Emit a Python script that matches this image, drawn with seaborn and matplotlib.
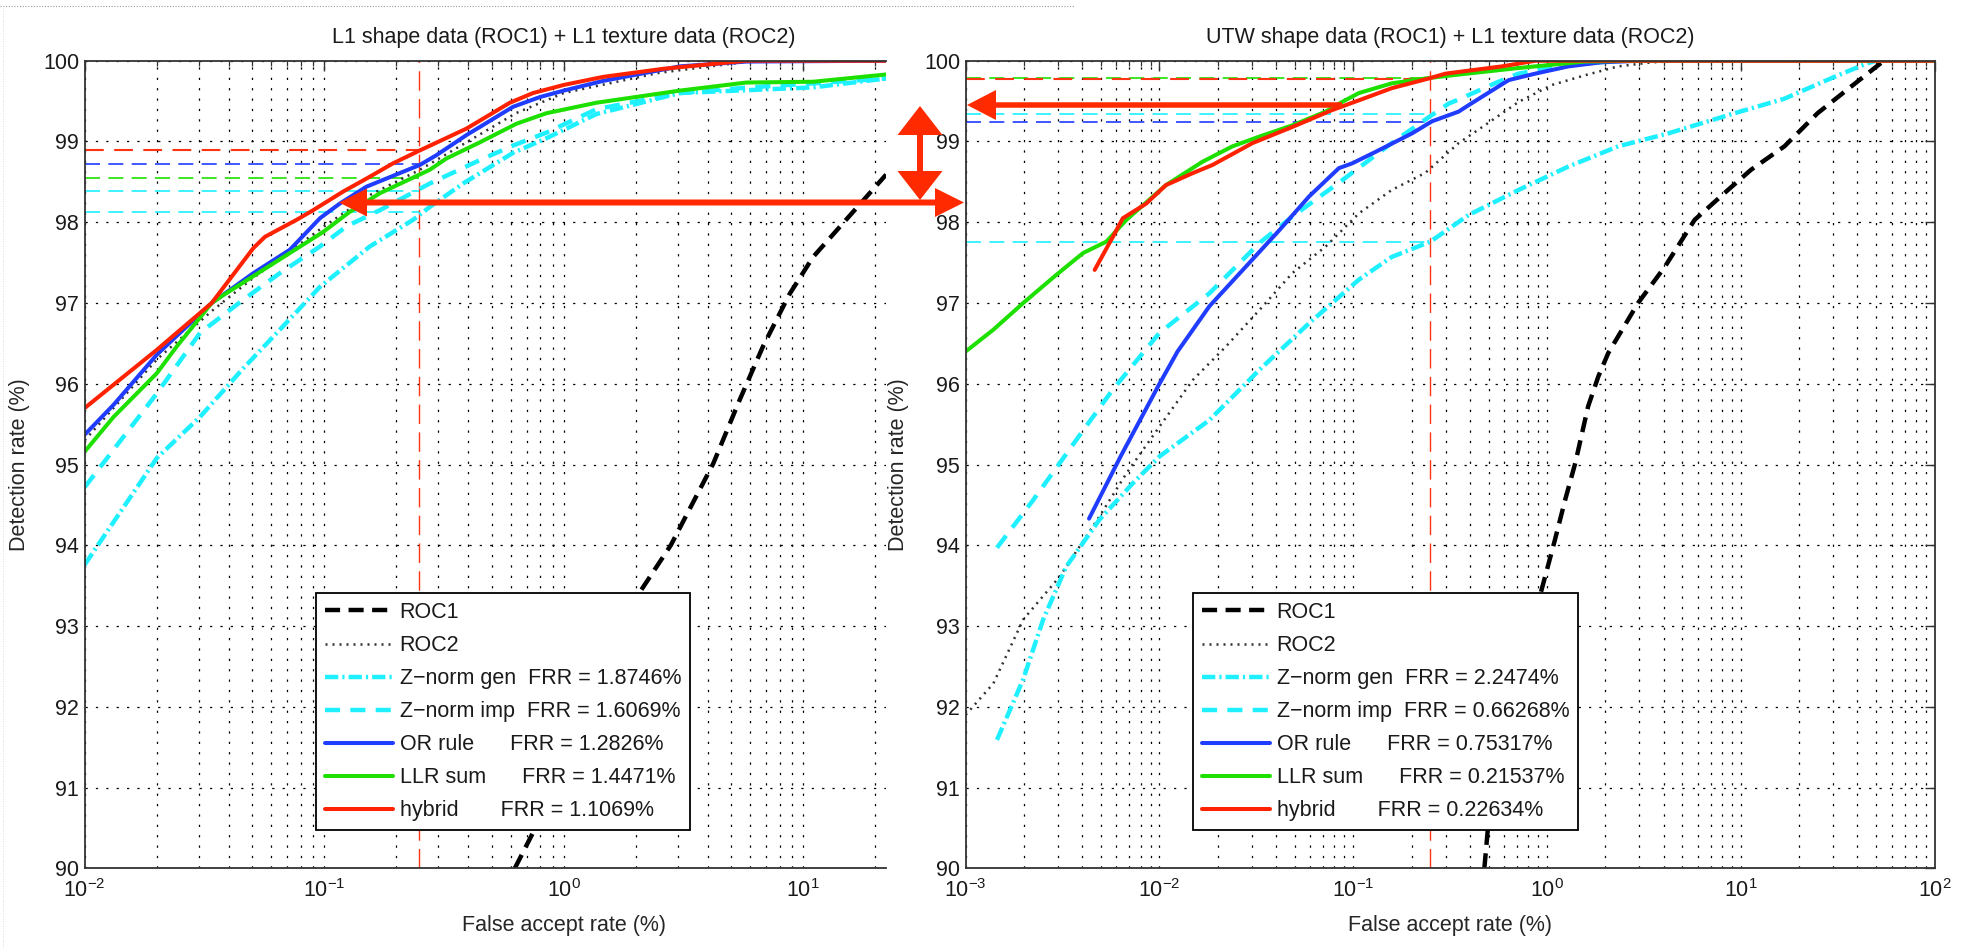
import matplotlib
matplotlib.use('Agg')
import matplotlib.pyplot as plt
import matplotlib.transforms as mtransforms
from matplotlib.patches import FancyArrow
from matplotlib.lines import Line2D
from matplotlib.ticker import LogLocator, NullFormatter, FixedLocator
import numpy as np
import pandas as pd
import seaborn as sns

# ---- left panel: L1 shape + L1 texture ----
roc1_l_x = [0.625, 0.75, 1.0, 1.35, 2.09, 2.8, 4.21, 5.43, 6.79, 8.77, 11.0, 15.1, 22.2]
roc1_l_y = [90.0, 90.46, 91.3, 92.2, 93.43, 94.0, 95.01, 95.8, 96.46, 97.11, 97.57, 98.03, 98.59]
roc2_l_x = [0.01, 0.02, 0.0339, 0.05, 0.1, 0.158, 0.251, 0.398, 0.631, 1.0, 2.5, 6.3, 22.2]
roc2_l_y = [95.3, 96.3, 96.9, 97.3, 97.95, 98.35, 98.65, 99.0, 99.35, 99.6, 99.85, 100.0, 100.0]
gen_l_x = [0.01, 0.02, 0.0303, 0.0459, 0.0653, 0.096, 0.155, 0.235, 0.276, 0.38, 0.615, 0.847, 1.37, 3.05, 11.0, 22.2]
gen_l_y = [93.76, 95.08, 95.59, 96.19, 96.67, 97.20, 97.70, 98.03, 98.19, 98.48, 98.86, 99.04, 99.34, 99.60, 99.67, 99.78]
imp_l_x = [0.01, 0.02, 0.0303, 0.0459, 0.0653, 0.096, 0.124, 0.171, 0.276, 0.447, 0.615, 0.847, 1.37, 3.05, 6.0, 11.0, 22.2]
imp_l_y = [94.72, 95.88, 96.63, 97.04, 97.37, 97.70, 97.95, 98.15, 98.48, 98.77, 98.95, 99.11, 99.40, 99.60, 99.67, 99.72, 99.78]
or_l_x = [0.01, 0.0132, 0.02, 0.0339, 0.0506, 0.0719, 0.096, 0.116, 0.150, 0.251, 0.294, 0.393, 0.615, 0.795, 1.0, 1.46, 3.05, 5.8, 22.2]
or_l_y = [95.37, 95.74, 96.36, 97.0, 97.37, 97.66, 98.05, 98.23, 98.44, 98.71, 98.83, 99.08, 99.43, 99.55, 99.63, 99.75, 99.93, 99.99, 100.0]
llr_l_x = [0.01, 0.0132, 0.02, 0.0242, 0.0339, 0.038, 0.0794, 0.099, 0.128, 0.171, 0.276, 0.324, 0.447, 0.635, 0.847, 1.37, 3.05, 5.8, 11.0, 22.2]
llr_l_y = [95.16, 95.59, 96.13, 96.46, 97.0, 97.10, 97.70, 97.88, 98.13, 98.36, 98.65, 98.79, 98.99, 99.22, 99.35, 99.48, 99.63, 99.73, 99.74, 99.83]
hyb_l_x = [0.01, 0.02, 0.0339, 0.0506, 0.0566, 0.0767, 0.090, 0.120, 0.150, 0.194, 0.251, 0.393, 0.596, 0.745, 1.0, 1.46, 2.6, 4.2, 5.8, 22.2]
hyb_l_y = [95.70, 96.42, 97.0, 97.68, 97.82, 98.03, 98.15, 98.38, 98.54, 98.73, 98.89, 99.16, 99.48, 99.60, 99.70, 99.80, 99.90, 99.96, 100.0, 100.0]
frr_l = [1.8746, 1.6069, 1.2826, 1.4471, 1.1069]   # gen, imp, OR, LLR, hybrid

# ---- right panel: UTW shape + L1 texture ----
roc1_r_x = [0.475, 0.494, 0.7, 0.933, 1.094, 1.24, 1.40, 1.63, 1.84, 2.07, 2.95, 4.06, 5.78, 8.59, 11.3, 16.8, 24.9, 37.1, 52.8, 55.0, 100.0]
roc1_r_y = [90.0, 90.46, 92.0, 93.43, 94.05, 94.56, 95.02, 95.72, 96.09, 96.38, 97.0, 97.45, 98.03, 98.40, 98.65, 98.94, 99.35, 99.68, 99.97, 100.0, 100.0]
roc2_r_x = [0.001, 0.00139, 0.00198, 0.00305, 0.00491, 0.00675, 0.01, 0.0149, 0.022, 0.0327, 0.0485, 0.0721, 0.107, 0.158, 0.235, 0.35, 0.477, 0.713, 1.06, 1.57, 2.33, 3.47, 5.1, 100.0]
roc2_r_y = [91.9, 92.29, 93.08, 93.61, 94.36, 94.89, 95.47, 96.05, 96.46, 96.91, 97.37, 97.70, 98.11, 98.40, 98.61, 98.98, 99.20, 99.49, 99.70, 99.82, 99.93, 99.98, 100.0, 100.0]
gen_r_x = [0.00145, 0.00198, 0.00251, 0.00331, 0.00491, 0.0073, 0.01, 0.0181, 0.0327, 0.0592, 0.107, 0.158, 0.25, 0.394, 0.713, 1.29, 2.33, 4.22, 9.29, 16.8, 30.4, 45.1, 50.0, 100.0]
gen_r_y = [91.59, 92.34, 93.08, 93.74, 94.32, 94.77, 95.10, 95.55, 96.17, 96.75, 97.29, 97.57, 97.76, 98.09, 98.40, 98.69, 98.94, 99.10, 99.35, 99.53, 99.80, 99.97, 100.0, 100.0]
imp_r_x = [0.00145, 0.00223, 0.00306, 0.00403, 0.00575, 0.01, 0.0181, 0.0327, 0.0485, 0.0877, 0.158, 0.235, 0.311, 0.35, 0.562, 0.713, 1.29, 2.3, 100.0]
imp_r_y = [93.97, 94.56, 95.02, 95.42, 95.93, 96.63, 97.12, 97.74, 98.07, 98.52, 98.98, 99.27, 99.47, 99.52, 99.74, 99.84, 99.95, 100.0, 100.0]
or_r_x = [0.00433, 0.0063, 0.01, 0.0124, 0.0181, 0.0279, 0.0415, 0.0592, 0.0843, 0.0989, 0.130, 0.201, 0.255, 0.35, 0.394, 0.634, 0.869, 1.29, 1.9, 3.0, 100.0]
or_r_y = [94.33, 95.1, 96.0, 96.40, 96.96, 97.45, 97.90, 98.32, 98.67, 98.73, 98.87, 99.10, 99.25, 99.37, 99.45, 99.76, 99.84, 99.93, 99.98, 100.0, 100.0]
llr_r_x = [0.001, 0.00139, 0.00198, 0.00294, 0.00404, 0.00532, 0.00675, 0.0108, 0.0167, 0.0238, 0.0327, 0.0485, 0.0721, 0.0877, 0.107, 0.158, 0.235, 0.324, 0.713, 1.57, 3.0, 100.0]
llr_r_y = [96.40, 96.67, 97.0, 97.35, 97.62, 97.76, 98.03, 98.46, 98.75, 98.94, 99.06, 99.20, 99.37, 99.49, 99.60, 99.72, 99.78, 99.82, 99.91, 99.99, 100.0, 100.0]
hyb_r_x = [0.00463, 0.00575, 0.00647, 0.00853, 0.0108, 0.0149, 0.0188, 0.0302, 0.0485, 0.078, 0.107, 0.158, 0.245, 0.299, 0.585, 0.87, 100.0]
hyb_r_y = [97.41, 97.82, 98.05, 98.23, 98.46, 98.61, 98.71, 98.98, 99.18, 99.39, 99.51, 99.66, 99.78, 99.84, 99.93, 100.0, 100.0]
frr_r = [2.2474, 0.66268, 0.75317, 0.21537, 0.22634]

far_op = 0.25   # operating point (%)

names = ['ROC1', 'ROC2', 'Z\u2212norm gen', 'Z\u2212norm imp', 'OR rule', 'LLR sum', 'hybrid']
gaps = ['', '', '  ', '  ', '      ', '      ', '       ']

styles = {
    'ROC1': dict(color='black', lw=3.2, ls=(0, (3.4, 1.9))),
    'ROC2': dict(color='#303030', lw=1.8, ls=(0, (0.8, 2.0))),
    'Z\u2212norm gen': dict(color='#1ef0ff', lw=3.2, ls=(0, (3.0, 0.9, 0.5, 0.9))),
    'Z\u2212norm imp': dict(color='#1ef0ff', lw=3.2, ls=(0, (3.4, 2.3))),
    'OR rule': dict(color='#1f3cff', lw=2.9, ls='-'),
    'LLR sum': dict(color='#1ee000', lw=2.9, ls='-'),
    'hybrid': dict(color='#ff2200', lw=2.9, ls='-'),
}
ref_colors = ['#1ef0ff', '#1ef0ff', '#1f3cff', '#1ee000', '#ff3311']
arrow_color = '#ff2a00'
FS = 15.5

sns.set_style('white')
plt.rcParams['font.family'] = ['Liberation Sans', 'DejaVu Sans']
plt.rcParams['mathtext.fontset'] = 'custom'
plt.rcParams['mathtext.rm'] = 'Liberation Sans'
plt.rcParams['mathtext.it'] = 'Liberation Sans:italic'
plt.rcParams['mathtext.bf'] = 'Liberation Sans:bold'
plt.rcParams['text.color'] = '#1a1a1a'

fig = plt.figure(figsize=(19.7, 9.49), dpi=100)
ax1 = fig.add_axes([0.0430, 0.0850, 0.4068, 0.8510])
ax2 = fig.add_axes([0.4902, 0.0850, 0.4918, 0.8510])

panels = [
    dict(ax=ax1, title='L1 shape data (ROC1) + L1 texture data (ROC2)', xlim=(0.01, 22.2),
         series=[(roc1_l_x, roc1_l_y), (roc2_l_x, roc2_l_y), (gen_l_x, gen_l_y), (imp_l_x, imp_l_y),
                 (or_l_x, or_l_y), (llr_l_x, llr_l_y), (hyb_l_x, hyb_l_y)],
         frr=frr_l, cx=0.598, legx=0.289, ylabx=-0.068, right=False),
    dict(ax=ax2, title='UTW shape data (ROC1) + L1 texture data (ROC2)', xlim=(0.001, 100),
         series=[(roc1_r_x, roc1_r_y), (roc2_r_x, roc2_r_y), (gen_r_x, gen_r_y), (imp_r_x, imp_r_y),
                 (or_r_x, or_r_y), (llr_r_x, llr_r_y), (hyb_r_x, hyb_r_y)],
         frr=frr_r, cx=0.5, legx=0.235, ylabx=-0.0585, right=True),
]

for p in panels:
    ax = p['ax']
    ax.set_xscale('log')
    handles = []
    for name, gap, (xs, ys), in zip(names, gaps, p['series']):
        df = pd.DataFrame({'far': xs, 'det': ys})
        st = styles[name]
        if name in ('ROC1', 'ROC2'):
            label = name
        else:
            label = name + gap + 'FRR = %s%%' % ('{:.5g}'.format(p['frr'][names.index(name) - 2]))
        sns.lineplot(data=df, x='far', y='det', ax=ax, color=st['color'], linewidth=st['lw'],
                     linestyle=st['ls'], estimator=None, sort=False, label=label, legend=False)
        handles.append(ax.get_lines()[-1])

    # reference lines at the operating point (hybrid drawn last, on top)
    for k, (v, c) in enumerate(zip(p['frr'], ref_colors)):
        ax.plot([p['xlim'][0], far_op], [100 - v, 100 - v], color=c,
                lw=1.5 if k == 4 else 1.2, ls=(0, (9, 5)), zorder=1.5 + 0.01 * k)
    ax.axvline(far_op, color='#ff3311', lw=1.0, ls=(0, (14, 6)), zorder=1.5)

    ax.set_xlim(*p['xlim'])
    ax.set_ylim(90, 100)
    ax.yaxis.set_major_locator(FixedLocator(np.arange(90, 101, 1)))
    ax.set_yticklabels([str(v) for v in range(90, 101)])
    ax.xaxis.set_major_locator(LogLocator(base=10, numticks=20))
    ax.xaxis.set_minor_locator(LogLocator(base=10, subs=np.arange(2, 10), numticks=50))
    ax.xaxis.set_minor_formatter(NullFormatter())

    ax.set_axisbelow(True)
    ax.grid(which='major', axis='both', color='black', lw=0.9, ls=(0, (1.8, 6.5)))
    ax.grid(which='minor', axis='x', color='black', lw=0.9, ls=(0, (1.8, 6.5)))

    ax.tick_params(which='both', direction='in', top=True, right=p['right'], colors='#333333',
                   labelcolor='#1a1a1a', labelsize=FS)
    ax.tick_params(which='major', length=7, width=1.0)
    ax.tick_params(which='minor', length=3.5, width=0.9)
    ax.tick_params(axis='y', pad=4)
    ax.tick_params(axis='x', pad=8)
    for s in ax.spines.values():
        s.set_color('#333333')
        s.set_linewidth(1.3)
    if not p['right']:
        ax.spines['right'].set_visible(False)

    ax.set_title(p['title'], fontsize=FS, x=p['cx'], pad=13)
    ax.set_xlabel('False accept rate (%)', fontsize=FS)
    ax.set_ylabel('Detection rate (%)', fontsize=FS)
    ax.xaxis.set_label_coords(p['cx'], -0.058)
    ax.yaxis.set_label_coords(p['ylabx'], 0.5)

    leg = ax.legend(handles=handles, loc='upper left', bbox_to_anchor=(p['legx'], 0.341),
                    borderaxespad=0, fontsize=FS, frameon=True, fancybox=False, framealpha=1,
                    edgecolor='black', handlelength=3.15, handletextpad=0.3,
                    labelspacing=0.56, borderpad=0.42)
    leg.get_frame().set_linewidth(1.3)

# red annotation arrows, drawn in image pixel coordinates
H = 949


def arrow(x0, y0, x1, y1, w, hw, hl):
    a = FancyArrow(x0, H - y0, x1 - x0, -(y1 - y0), width=w, head_width=hw, head_length=hl,
                   length_includes_head=True, color=arrow_color, lw=0,
                   transform=mtransforms.IdentityTransform(), zorder=20)
    fig.add_artist(a)


arrow(651, 202.5, 339, 202.5, 6, 28, 28)
arrow(651, 202.5, 964, 202.5, 6, 29, 29)
arrow(920, 153, 920, 106, 6, 45, 29)
arrow(920, 153, 920, 200, 6, 45, 29)
arrow(1342, 105, 967, 105, 5.5, 30, 29)

# faint dotted border of the original screenshot
fig.add_artist(Line2D([0, 1075 / 1970], [1 - 6 / H, 1 - 6 / H], transform=fig.transFigure,
                      color='#9a9a9a', lw=0.8, ls=(0, (1, 1.5))))
fig.add_artist(Line2D([3 / 1970, 3 / 1970], [0, 1 - 6 / H], transform=fig.transFigure,
                      color='#d0d0d0', lw=0.6, ls=(0, (1, 2))))

fig.savefig('out.png', dpi=100)
